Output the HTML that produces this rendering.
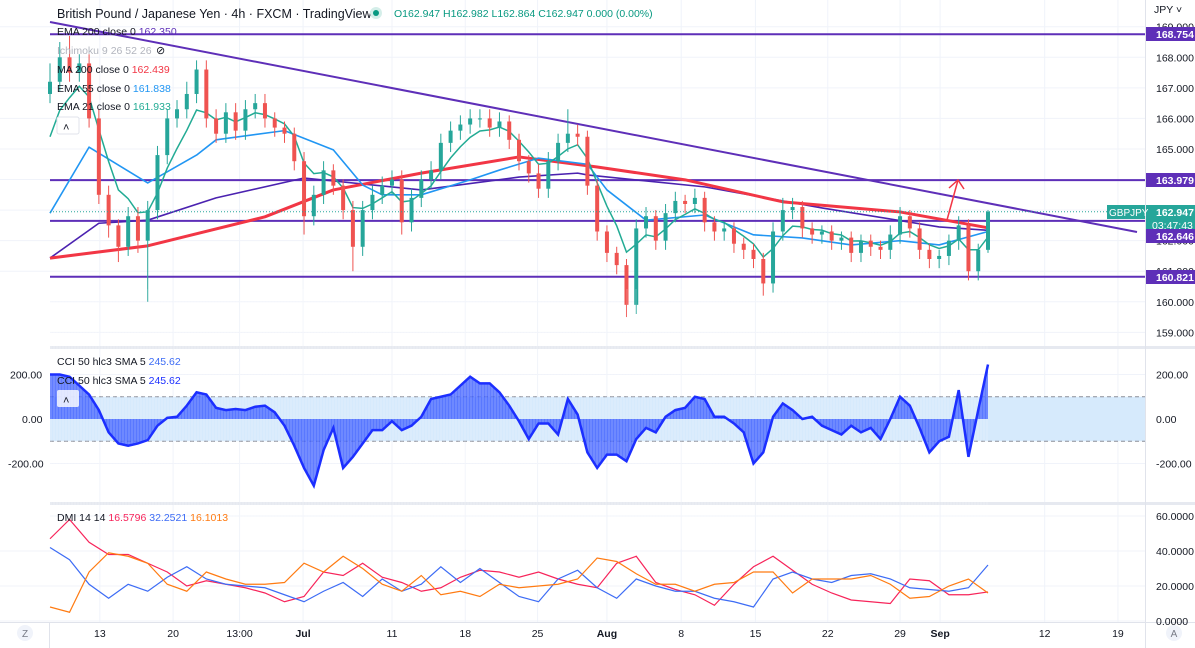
<!DOCTYPE html>
<html><head><meta charset="utf-8"><style>
body{margin:0;background:#fff;width:1195px;height:648px;overflow:hidden;font-family:"Liberation Sans",sans-serif}
svg{display:block}
text{font-family:"Liberation Sans",sans-serif}
</style></head><body>
<svg id="c" width="1195" height="648"></svg>
<script>
// ---- data ----
const closes=[167.2,168.0,167.5,167.8,166.0,163.5,162.5,161.8,162.8,162.0,163.0,164.8,166.0,166.3,166.8,167.6,166.0,165.5,166.2,165.6,166.3,166.5,166.0,165.7,165.5,164.6,162.8,163.5,164.3,163.8,163.0,161.8,163.0,163.5,163.8,164.0,162.6,163.4,164.0,164.3,165.2,165.6,165.8,166.0,166.0,165.7,165.9,165.3,164.6,164.2,163.7,164.6,165.2,165.5,165.4,163.8,162.3,161.6,161.2,159.9,162.4,162.8,162.0,162.9,163.3,163.2,163.4,162.6,162.3,162.4,161.9,161.7,161.4,160.6,162.3,163.0,163.1,162.4,162.2,162.3,162.0,162.1,161.6,162.0,161.8,161.7,162.2,162.8,162.4,161.7,161.4,161.5,162.0,162.5,161.0,161.7,162.95];
const firstOpen=166.8;
const upWick=[0.6,0.5,0.7,0.3,0.3,0.3,0.3,0.2,0.3,0.3,0.3,0.3,0.3,0.3,0.4,0.3,0.3,0.3,0.3,0.3,0.3,0.3,0.3,0.2,0.2,0.2,0.3,0.3,0.3,0.2,0.2,0.3,0.3,0.3,0.3,0.3,0.3,0.3,0.3,0.3,0.3,0.3,0.3,0.3,0.3,0.3,0.3,0.2,0.2,0.2,0.3,0.3,0.3,0.8,0.3,0.2,0.2,0.2,0.2,0.2,0.3,0.3,0.2,0.3,0.3,0.2,0.3,0.2,0.2,0.2,0.2,0.2,0.2,0.2,0.3,0.4,0.3,0.2,0.2,0.2,0.2,0.2,0.2,0.2,0.2,0.2,0.3,0.3,0.2,0.2,0.2,0.2,0.2,0.3,0.2,0.2,0.05];
const downWick=[0.3,0.3,0.3,0.3,0.3,0.3,0.4,0.5,0.3,0.4,2.0,0.3,0.3,0.3,0.3,0.3,0.3,0.3,0.3,0.3,0.3,0.3,0.3,0.3,0.3,0.3,0.6,0.3,0.3,0.3,0.3,0.8,0.3,0.3,0.3,0.3,0.4,0.3,0.3,0.3,0.3,0.3,0.3,0.3,0.3,0.3,0.3,0.3,0.3,0.3,0.3,0.3,0.3,0.3,0.3,0.3,0.3,0.3,0.3,0.4,0.3,0.3,0.3,0.3,0.3,0.3,0.3,0.3,0.3,0.3,0.3,0.3,0.3,0.4,0.3,0.3,0.3,0.3,0.3,0.3,0.3,0.3,0.3,0.3,0.3,0.3,0.3,0.3,0.3,0.3,0.3,0.3,0.3,0.3,0.3,0.3,0.1];
const ma200Idx=[0,10,22,29,38,48,56,65,75,87,96];
const ma200Val=[161.43,161.83,162.78,163.66,164.21,164.74,164.41,163.99,163.27,162.94,162.42];
const ema200Idx=[0,5,10,17,26,38,48,54,55,67,79,91,96];
const ema200Val=[161.43,162.57,162.67,163.4,164.05,163.66,164.08,164.21,164.15,163.76,163.07,162.45,162.34];
const ema55Idx=[0,4,10,15,17,24,29,32,34,38,43,46,50,55,57,61,67,72,77,82,87,91,96];
const ema55Val=[162.9,165.06,163.89,164.8,165.3,165.6,164.97,163.82,163.5,163.5,163.99,164.31,164.7,164.5,163.66,162.67,162.84,162.19,162.09,161.86,162.0,161.86,162.3];
const cci=[200,200,190,150,110,40,-60,-110,-120,-110,-95,-30,5,10,60,120,110,50,40,45,40,55,60,30,-30,-120,-220,-300,-140,-40,-220,-170,-110,-50,-50,-10,-50,-30,10,90,100,110,150,190,160,160,120,60,-10,-90,-20,-20,-70,90,20,-150,-220,-160,-160,-190,-90,-40,-60,10,40,50,100,90,10,10,-20,-60,-200,-150,10,70,40,0,10,-30,-50,-70,-30,-60,-40,-90,0,100,60,-40,-150,-100,-80,130,-170,40,245];
const dmiRed=[47,58,45,38,38,33,28,20,23,21,19,16,11,14,28,26,33,25,22,17,19,25,29,28,25,28,24,21,19,33,37,22,18,15,9,21,31,37,29,21,16,12,11,10,24,23,15,15,16.6];
const dmiBlue=[42,35,21,13,21,17,25,31,24,21,20,19,15,11,17,22,14,24,17,21,31,22,30,22,14,11,24,29,19,13,24,20,17,17,13,11,8,24,28,24,22,26,27,24,19,18,17,19,32];
const dmiOrange=[8,5,28,39,37,33,21,17,28,24,21,21,22,33,28,37,30,21,17,26,15,17,14,21,19,20,21,24,36,34,27,21,21,17,21,22,28,28,16,24,24,24,26,21,13,14,20,24,16];
const priceTicks=[169,168,167,166,165,164,163,162,161,160,159];
const cciTicks=[200,0,-200];
const dmiTicks=[60,40,20,0];
const timeLabels=["13","20","13:00","Jul","11","18","25","Aug","8","15","22","29","Sep","12","19"];
const timeIdx=[5.1,12.6,19.4,25.9,35.0,42.5,49.9,57.0,64.6,72.2,79.6,87.0,91.1,101.8,109.3];
const levels=[168.754,163.979,162.646,160.821];

// ---- axes ----
const N=96, X0=50, X1=988;
const xOf=i=>X0+i*(X1-X0)/N;
const yP=p=>57.3+(168-p)*30.56;
const yC=v=>419-v*0.2225;
const yD=v=>621-v*1.75;
const xD=k=>X0+k*(X1-X0)/48;

const svg=document.getElementById('c');
const NS='http://www.w3.org/2000/svg';
function mk(tag,at,parent){const e=document.createElementNS(NS,tag);for(const k in at)e.setAttribute(k,at[k]);(parent||svg).appendChild(e);return e;}
function txt(s,x,y,at){const e=mk('text',Object.assign({x:x,y:y,'font-size':11,fill:'#131722'},at||{}));e.textContent=s;return e;}

// grid
const grid=mk('g',{});


timeIdx.forEach(t=>mk('line',{x1:xOf(t),x2:xOf(t),y1:0,y2:622,stroke:'#f0f3fa'},grid));
priceTicks.forEach(p=>mk('line',{x1:0,x2:1145,y1:yP(p),y2:yP(p),stroke:'#f0f3fa'},grid));
cciTicks.forEach(v=>mk('line',{x1:0,x2:1145,y1:yC(v),y2:yC(v),stroke:'#f0f3fa'},grid));
dmiTicks.forEach(v=>mk('line',{x1:0,x2:1145,y1:yD(v),y2:yD(v),stroke:'#f0f3fa'},grid));

// pane separators
[347,503].forEach(y=>mk('rect',{x:0,y:y-1,width:1195,height:3,fill:'#e6e9f0'}));
mk('line',{x1:0,x2:1195,y1:622.5,y2:622.5,stroke:'#e0e3eb'});
mk('line',{x1:1145.5,x2:1145.5,y1:0,y2:648,stroke:'#e0e3eb'});
mk('line',{x1:49.5,x2:49.5,y1:622,y2:648,stroke:'#e0e3eb'});

// levels
levels.forEach(l=>{const e=mk('line',{x1:50,x2:1145,y1:yP(l),y2:yP(l),stroke:'#5e2fb8','stroke-width':2});

});
// trendline
const tl=mk('line',{x1:50,y1:22,x2:1137,y2:232,stroke:'#5e2fb8','stroke-width':2});



// MAs
function pl(idx,val,color,w,name){const pts=idx.map((i,j)=>xOf(i)+','+yP(val[j])).join(' ');
const e=mk('polyline',{points:pts,fill:'none',stroke:color,'stroke-width':w,'stroke-linejoin':'round'});

}
pl(ema200Idx,ema200Val,'#4b22b0',1.6,'ema200-line');
pl(ma200Idx,ma200Val,'#f23645',3,'ma200-line');
pl(ema55Idx,ema55Val,'#2196f3',1.6,'ema55-line');
// EMA21 computed from closes
let e21=164.5; const a=2/6; const e21pts=[];
closes.forEach((c,i)=>{e21=e21+a*(c-e21);e21pts.push(xOf(i)+','+yP(e21));});
const e21l=mk('polyline',{points:e21pts.join(' '),fill:'none',stroke:'#22ab94','stroke-width':1.5});



// candles
const cg=mk('g',{});


closes.forEach((c,i)=>{const o=i?closes[i-1]:firstOpen;const up=c>=o;const col=up?'#26a69a':'#ef5350';
const hi=Math.max(o,c)+upWick[i],lo=Math.min(o,c)-downWick[i];const x=xOf(i);
mk('line',{x1:x,x2:x,y1:yP(hi),y2:yP(lo),stroke:col,'stroke-width':1},cg);
const yt=yP(Math.max(o,c)),yb=yP(Math.min(o,c));
const r=mk('rect',{x:x-2,y:yt,width:4,height:Math.max(1,yb-yt),fill:col},cg);

});
// last price dotted
mk('line',{x1:50,x2:1145,y1:yP(162.947),y2:yP(162.947),stroke:'#26a69a','stroke-dasharray':'1 2'});
// red arrow
const ar=mk('g',{stroke:'#f23645','stroke-width':1.5,fill:'none'});


mk('line',{x1:947,y1:220,x2:958,y2:180},ar);
mk('polyline',{points:'949,188 958,180 964,189'},ar);

// CCI pane
mk('rect',{x:50,y:yC(100),width:1095,height:yC(-100)-yC(100),fill:'#d6eafc'});
[100,-100].forEach(v=>mk('line',{x1:50,x2:1145,y1:yC(v),y2:yC(v),stroke:'#8a8e99','stroke-dasharray':'4 3'}));
const cciPts=cci.map((v,i)=>xOf(i)+','+yC(v));
const ca=mk('polygon',{points:xOf(0)+','+yC(0)+' '+cciPts.join(' ')+' '+xOf(N)+','+yC(0),fill:'#3a5bff','fill-opacity':0.8});


for(let x=51;x<988;x+=3)mk('line',{x1:x,x2:x,y1:yC(0)-130,y2:yC(0)+130,stroke:'#ffffff','stroke-opacity':0.25});
const cl=mk('polyline',{points:cciPts.join(' '),fill:'none',stroke:'#1c2fff','stroke-width':2.5});


mk('rect',{x:0,y:yC(0)-131,width:50,height:262,fill:'#fff'});

// DMI
function dl(arr,col,name){const e=mk('polyline',{points:arr.map((v,k)=>xD(k)+','+yD(v)).join(' '),fill:'none',stroke:col,'stroke-width':1.2});

}
dl(dmiRed,'#f7245a','dmi-red-line');dl(dmiBlue,'#3d6cf5','dmi-blue-line');dl(dmiOrange,'#ff7b12','dmi-orange-line');

// price axis labels
priceTicks.forEach(p=>txt(p.toFixed(3),1156,yP(p)+4,{fill:'#131722','font-size':10.5}));
cciTicks.forEach(v=>txt(v.toFixed(2),1156,yC(v)+4,{'font-size':10.5}));
txt('200.00',10,yC(200)+4,{'font-size':10.5});txt('0.00',22,yC(0)+4,{'font-size':10.5});txt('-200.00',8,yC(-200)+4,{'font-size':10.5});
dmiTicks.forEach(v=>txt(v.toFixed(4),1156,yD(v)+4,{'font-size':10.5}));
txt('JPY ˅',1154,13,{'font-size':10.5});
function tag(s,y,col,name,w){const g=mk('g',{});
mk('rect',{x:1146,y:y-7,width:w||49,height:14,fill:col},g);
const t=mk('text',{x:1156,y:y+4,fill:'#fff','font-size':10.5,'font-weight':'bold'},g);t.textContent=s;}
tag('168.754',34,'#5e2fb8','level-tag-168754');
tag('163.979',180,'#5e2fb8','level-tag-163979');
mk('rect',{x:1146,y:205,width:49,height:27,fill:'#26a69a'});
txt('162.947',1156,216,{fill:'#fff','font-size':10.5,'font-weight':'bold'});
txt('03:47:43',1152,229,{fill:'#fff','font-size':10.5});
mk('rect',{x:1107,y:205,width:38,height:14,fill:'#26a69a'});
txt('GBPJPY',1109,216,{fill:'#fff','font-size':10});
tag('162.646',236,'#5e2fb8','level-tag-162646');
tag('160.821',277,'#5e2fb8','level-tag-160821');

// time axis
timeLabels.forEach((s,j)=>{const b=(s==='Jul'||s==='Aug'||s==='Sep');
const t=txt(s,xOf(timeIdx[j]),637,{'text-anchor':'middle','font-weight':b?'bold':'normal','font-size':10.5});

});
mk('circle',{cx:25,cy:633,r:8,fill:'#f0f3fa'});txt('Z',25,637,{'text-anchor':'middle',fill:'#787b86','font-size':10});
mk('circle',{cx:1174,cy:633,r:8,fill:'#f0f3fa'});txt('A',1174,637,{'text-anchor':'middle',fill:'#787b86','font-size':10});

// legends
txt('British Pound / Japanese Yen · 4h · FXCM · TradingView',57,18,{'font-size':12.5});
mk('circle',{cx:376,cy:13,r:6,fill:'#d4eee9'});mk('circle',{cx:376,cy:13,r:3,fill:'#089981'});
const oh=txt('',394,17,{'font-size':10.5,fill:'#089981'});oh.textContent='O162.947 H162.982 L162.864 C162.947 0.000 (0.00%)';
function leg(label,val,y,col,lc){const t=txt(label+' ',57,y,{'font-size':10.5,fill:lc||'#131722'});const s=document.createElementNS(NS,'tspan');s.setAttribute('fill',col);s.textContent=val;t.appendChild(s);

}
leg('EMA 200 close 0','162.350',35,'#5e2fb8');
txt('Ichimoku 9 26 52 26',57,54,{'font-size':10.5,fill:'#b2b5be'});
txt('⊘',156,54,{'font-size':11,fill:'#131722'});
leg('MA 200 close 0','162.439',73,'#f23645');
leg('EMA 55 close 0','161.838',92,'#2196f3');
leg('EMA 21 close 0','161.933',110,'#22ab94');
mk('rect',{x:57,y:117,width:22,height:17,rx:2,fill:'#fff',stroke:'#e0e3eb'});txt('˄',63,131,{'font-size':11});
leg('CCI 50 hlc3 SMA 5','245.62',365,'#3d6cf5');
leg('CCI 50 hlc3 SMA 5','245.62',384,'#1c2fff');
mk('rect',{x:57,y:390,width:22,height:17,rx:2,fill:'#fff','fill-opacity':0.8});txt('˄',63,404,{'font-size':11});
const dg=txt('DMI 14 14 ',57,521,{'font-size':10.5});
[['16.5796','#f7245a'],['32.2521','#3d6cf5'],['16.1013','#ff7b12']].forEach(([v,c])=>{const s=document.createElementNS(NS,'tspan');s.setAttribute('fill',c);s.textContent=v+'  ';dg.appendChild(s);});
</script>
</body></html>
